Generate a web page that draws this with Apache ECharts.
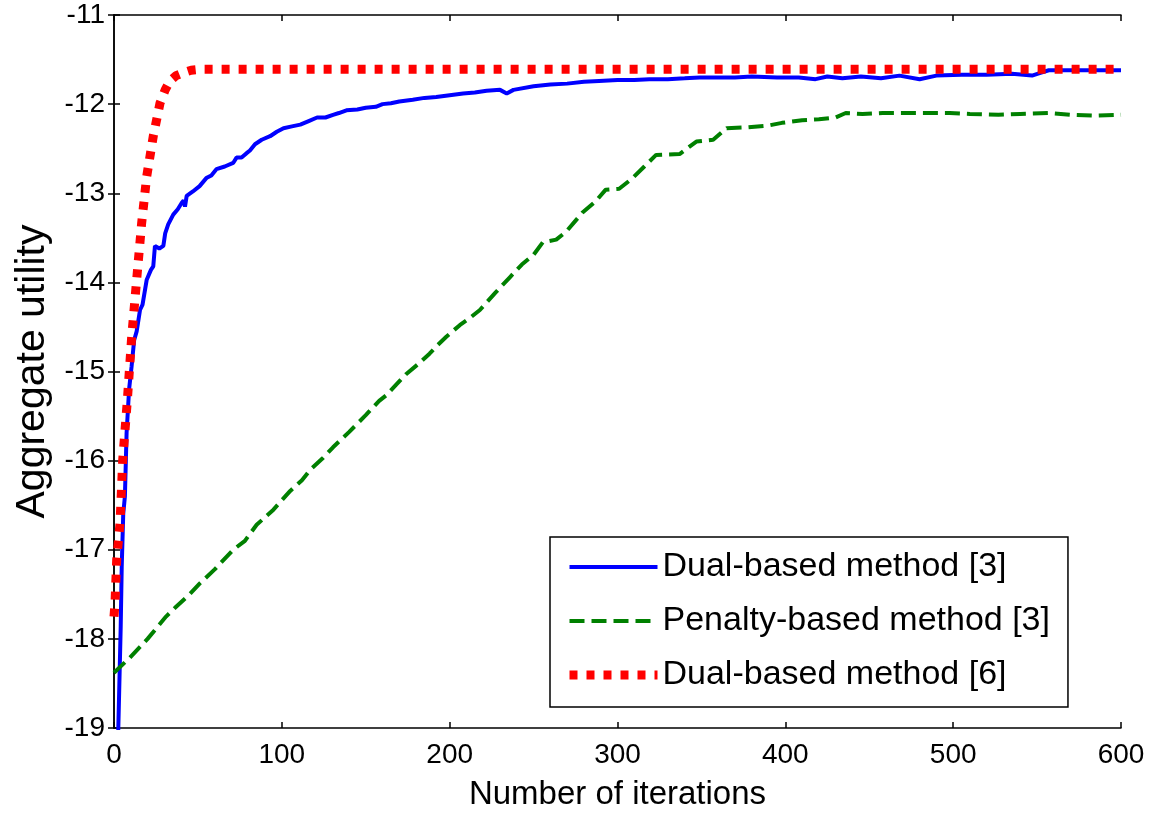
<!DOCTYPE html>
<html>
<head>
<meta charset="utf-8">
<title>Aggregate utility vs. iterations</title>
<script src="https://cdn.jsdelivr.net/npm/echarts@6/dist/echarts.min.js"></script>
<style>
  html, body { margin: 0; padding: 0; background: #fff; }
  #chart { width: 1159px; height: 824px; }
</style>
</head>
<body>
<div id="chart"></div>
<script>
// Series names shown in the legend
const seriesNames = ['Dual-based method [3]', 'Penalty-based method [3]', 'Dual-based method [6]'];

// Dual-based method [3]: iteration / aggregate utility
const dual3Iter = [2, 2.6, 4, 4.6, 5.5, 6.5, 7.5, 9, 10.5, 12, 13.5, 15.5, 17, 19.5, 22, 23.4, 24.4, 27, 29.4, 30.5,
  32.3, 35.3, 38, 40.3, 41.5, 42.3, 43.3, 47, 51, 55, 58, 61, 66, 71, 73, 76, 79, 81, 84, 88,
  93, 97, 101, 106, 111, 116, 121, 126, 130.5, 134, 138.5, 145, 150, 156, 160, 165, 170, 178, 185, 192,
  200, 208, 215, 222, 230, 234, 238, 250, 260, 270, 280, 289, 300, 310, 319, 330, 340, 349, 370, 380,
  395, 408, 418, 425, 434, 445, 457, 468, 480, 490, 505, 520, 535, 547, 552, 557, 570, 585, 600];
const dual3Util = [-19.4, -18.98, -17.86, -17.19, -16.6, -16.4, -15.69, -15.2, -14.94, -14.65, -14.55, -14.31, -14.25, -13.97, -13.86, -13.82, -13.59, -13.62, -13.59, -13.45,
  -13.35, -13.24, -13.18, -13.11, -13.08, -13.15, -13.03, -12.98, -12.92, -12.83, -12.8, -12.73, -12.7, -12.66, -12.6, -12.6, -12.55, -12.52, -12.45, -12.4,
  -12.36, -12.31, -12.27, -12.25, -12.23, -12.19, -12.15, -12.15, -12.12, -12.1, -12.07, -12.06, -12.04, -12.03, -12.0, -11.99, -11.97, -11.95, -11.93, -11.92,
  -11.9, -11.88, -11.87, -11.85, -11.84, -11.88, -11.84, -11.8, -11.78, -11.77, -11.75, -11.74, -11.73, -11.73, -11.72, -11.72, -11.71, -11.7, -11.7, -11.69,
  -11.7, -11.7, -11.72, -11.69, -11.71, -11.69, -11.71, -11.68, -11.72, -11.68, -11.67, -11.67, -11.66, -11.68, -11.65, -11.62, -11.62, -11.62, -11.62];

// Penalty-based method [3]
const penaltyIter = [0, 9.5, 20, 31, 37, 45, 51, 60, 71, 78, 85, 95, 105, 112, 117, 124, 130.5, 140, 150, 158,
  162, 168, 174, 181, 188, 193, 198, 206, 212, 218, 227, 236, 243, 250, 255.5, 263.5, 269.5, 279, 287, 293,
  301, 309, 316, 323, 337, 347, 357, 365, 378, 390, 398, 410, 420, 430, 436, 446, 458, 470, 480, 498,
  510, 527, 540, 557, 570, 585, 600];
const penaltyUtil = [-18.38, -18.21, -18.0, -17.75, -17.64, -17.5, -17.38, -17.22, -17.0, -16.9, -16.72, -16.55, -16.34, -16.22, -16.1, -15.98, -15.85, -15.68, -15.49, -15.33,
  -15.27, -15.15, -15.03, -14.92, -14.8, -14.7, -14.61, -14.48, -14.4, -14.31, -14.12, -13.94, -13.8, -13.69, -13.55, -13.52, -13.43, -13.22, -13.09, -12.96,
  -12.95, -12.83, -12.7, -12.57, -12.56, -12.42, -12.4, -12.27, -12.26, -12.24, -12.21, -12.18, -12.17, -12.15, -12.1, -12.11, -12.1, -12.1, -12.1, -12.1,
  -12.11, -12.12, -12.11, -12.1, -12.12, -12.13, -12.12];

// Dual-based method [6]
const dual6Iter = [0, 0.6, 1.6, 3.6, 5.2, 8, 10.5, 13.5, 16.5, 19.5, 23.4, 27.4, 30.5, 33.3, 37, 41, 46, 51, 600];
const dual6Util = [-17.75, -17.6, -17.11, -16.7, -15.99, -15.31, -14.62, -13.97, -13.33, -12.81, -12.36, -11.99, -11.84, -11.74, -11.68, -11.65, -11.62, -11.61, -11.61];

// Axis ranges
const xRange = { min: 0, max: 600, step: 100 };
const yRange = { min: -19, max: -11, step: 1 };

const zip = (xs, ys) => xs.map((x, i) => [x, ys[i]]);

const font = 'Arial, "Liberation Sans", sans-serif';
const colors = ['#0000ff', '#008000', '#ff0000'];
const lineStyles = [
  { color: colors[0], width: 4, type: 'solid' },
  { color: colors[1], width: 4, type: [15, 7], cap: 'butt' },
  { color: colors[2], width: 9, type: [8, 9], cap: 'butt' }
];
const axisLine = { show: true, lineStyle: { color: '#000', width: 1.5 } };
const tick = { show: true, inside: true, length: 6, lineStyle: { color: '#000', width: 1.5 } };

const chart = echarts.init(document.getElementById('chart'), null, { renderer: 'canvas' });
chart.setOption({
  animation: false,
  backgroundColor: '#fff',
  grid: { left: 114, right: 38, top: 15, bottom: 96, containLabel: false },
  legend: {
    orient: 'vertical',
    left: 550,
    top: 537,
    padding: [10, 18, 12, 15],
    itemWidth: 88,
    itemHeight: 14,
    itemGap: 14,
    backgroundColor: '#fff',
    borderColor: '#000',
    borderWidth: 1.5,
    borderRadius: 0,
    itemStyle: { opacity: 0 },
    textStyle: { fontFamily: font, fontSize: 34, color: '#000', lineHeight: 40 },
    data: seriesNames.map((name, i) => ({ name: name, lineStyle: Object.assign({}, lineStyles[i]) }))
  },
  xAxis: [{
    type: 'value', position: 'bottom',
    min: xRange.min, max: xRange.max, interval: xRange.step,
    name: 'Number of iterations', nameLocation: 'middle', nameGap: 50,
    nameTextStyle: { fontFamily: font, fontSize: 33, color: '#000' },
    axisLine: axisLine, axisTick: tick,
    axisLabel: { fontFamily: font, fontSize: 28, color: '#000', margin: 13 },
    splitLine: { show: false }
  }, {
    type: 'value', position: 'top',
    min: xRange.min, max: xRange.max, interval: xRange.step,
    axisLine: axisLine, axisTick: tick,
    axisLabel: { show: false }, splitLine: { show: false }
  }],
  yAxis: [{
    type: 'value', position: 'left',
    min: yRange.min, max: yRange.max, interval: yRange.step,
    name: 'Aggregate utility', nameLocation: 'middle', nameGap: 61, nameRotate: 90,
    nameTextStyle: { fontFamily: font, fontSize: 41, color: '#000' },
    axisLine: axisLine, axisTick: tick,
    axisLabel: { fontFamily: font, fontSize: 28, color: '#000', margin: 9 },
    splitLine: { show: false }
  }, {
    type: 'value', position: 'right',
    min: yRange.min, max: yRange.max, interval: yRange.step,
    axisLine: axisLine, axisTick: tick,
    axisLabel: { show: false }, splitLine: { show: false }
  }],
  series: [0, 1, 2].map(i => ({
    name: seriesNames[i], type: 'line', showSymbol: false, symbol: 'none',
    data: [zip(dual3Iter, dual3Util), zip(penaltyIter, penaltyUtil), zip(dual6Iter, dual6Util)][i],
    lineStyle: lineStyles[i], itemStyle: { color: colors[i] }
  }))
});
</script>
</body>
</html>
